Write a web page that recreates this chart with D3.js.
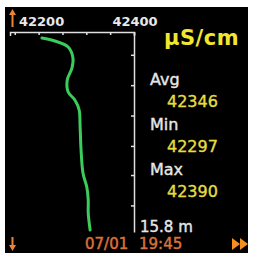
<!DOCTYPE html>
<html><head><meta charset="utf-8">
<script src="https://cdn.jsdelivr.net/npm/d3@7"></script>
<style>html,body{margin:0;padding:0;background:#fff;}svg{display:block;}</style>
</head><body>
<script>
// Data
const conductivity = [42207, 42234, 42262, 42272, 42270, 42260, 42262, 42276, 42285, 42287, 42289, 42293, 42301, 42304, 42304, 42308];
const depth        = [0.47, 0.71, 1.19, 2.05, 2.84, 3.79, 4.74, 5.37, 6.16, 7.5, 9.32, 11.14, 12.25, 13.27, 14.3, 15.64];
const xTickValues = [42150, 42200, 42250, 42300, 42350, 42400];
const xTickLabels = ["42200", "42400"];
const yTickValues = [1.8, 4.2, 6.6, 9.0, 11.3, 13.7];
const statLabels = ["Avg", "Min", "Max"];
const statValues = ["42346", "42297", "42390"];
const unitLabel = "µS/cm";
const depthLabel = "15.8 m";
const dateLabel = "07/01";
const timeLabel = "19:45";

const W = 256, H = 253;
const svg = d3.select("body").append("svg").attr("width", W).attr("height", H);
const font = "DejaVu Sans, Verdana, sans-serif";

svg.append("rect").attr("x", 5).attr("y", 7).attr("width", 243).attr("height", 246).attr("fill", "#000");

const x = d3.scaleLinear().domain([42140, 42400]).range([10, 134]);
const y = d3.scaleLinear().domain([0, 15.8]).range([32, 232]);

// top axis
const gx = svg.append("g").attr("transform", "translate(0,32)")
  .call(d3.axisTop(x).tickValues(xTickValues).tickSizeInner(-3).tickSizeOuter(-4).tickFormat(""));
gx.selectAll("path,line").attr("stroke", "#e0e0e0").attr("stroke-width", 1.5);

// right axis
const gy = svg.append("g").attr("transform", "translate(134,0)")
  .call(d3.axisRight(y).tickValues(yTickValues).tickSizeInner(-3).tickSizeOuter(0).tickFormat(""));
gy.selectAll("path,line").attr("stroke", "#e0e0e0").attr("stroke-width", 1.5);

// tick labels
svg.selectAll("text.xl").data(xTickLabels).join("text")
  .attr("x", d => x(+d) + (d === "42200" ? 3 : 1))
  .attr("y", 26).attr("text-anchor", "middle")
  .attr("font-family", font).attr("font-size", 13).attr("font-weight", "bold")
  .attr("fill", "#e8e8e8").text(d => d);

// line
const line = d3.line().x((d, i) => x(conductivity[i])).y(d => y(d)).curve(d3.curveCatmullRom);
svg.append("path").datum(depth).attr("d", line)
  .attr("fill", "none").attr("stroke", "#3ccc5c").attr("stroke-width", 3).attr("stroke-linecap", "round");

// unit
svg.append("text").attr("x", 164).attr("y", 45)
  .attr("font-family", font).attr("font-size", 21).attr("font-weight", "bold")
  .attr("letter-spacing", 0.5).attr("fill", "#f2e62e").text(unitLabel);

// stats
const statY = [85, 130, 175];
statLabels.forEach((s, i) => {
  svg.append("text").attr("x", 150).attr("y", statY[i])
    .attr("font-family", font).attr("font-size", 16).attr("fill", "#e6e6e6")
    .attr("stroke", "#e6e6e6").attr("stroke-width", 0.4).text(s);
  svg.append("text").attr("x", 167).attr("y", statY[i] + 22)
    .attr("font-family", font).attr("font-size", 16).attr("fill", "#e4dc40")
    .attr("stroke", "#e4dc40").attr("stroke-width", 0.4).text(statValues[i]);
});

svg.append("text").attr("x", 140).attr("y", 232)
  .attr("font-family", font).attr("font-size", 15).attr("fill", "#e6e6e6")
  .attr("stroke", "#e6e6e6").attr("stroke-width", 0.4).text(depthLabel);

// date/time
svg.append("text").attr("x", 85).attr("y", 249)
  .attr("font-family", font).attr("font-size", 15).attr("fill", "#d8703a")
  .attr("stroke", "#d8703a").attr("stroke-width", 0.5).text(dateLabel);
svg.append("text").attr("x", 139).attr("y", 249)
  .attr("font-family", font).attr("font-size", 15).attr("fill", "#d8703a")
  .attr("stroke", "#d8703a").attr("stroke-width", 0.5).text(timeLabel);

// arrows
const orange = "#e8843a";
svg.append("path").attr("d", "M12.5,9 L9,15 L11.5,15 L11.5,27 L13.5,27 L13.5,15 L16,15 Z").attr("fill", orange);
svg.append("path").attr("d", "M11.5,237 L13.5,237 L13.5,245 L16,245 L12.5,251 L9,245 L11.5,245 Z").attr("fill", orange);
svg.append("path").attr("d", "M232,238 L240,244 L232,250 Z M240,238 L248,244 L240,250 Z").attr("fill", "#f5901e");
</script>
</body></html>
